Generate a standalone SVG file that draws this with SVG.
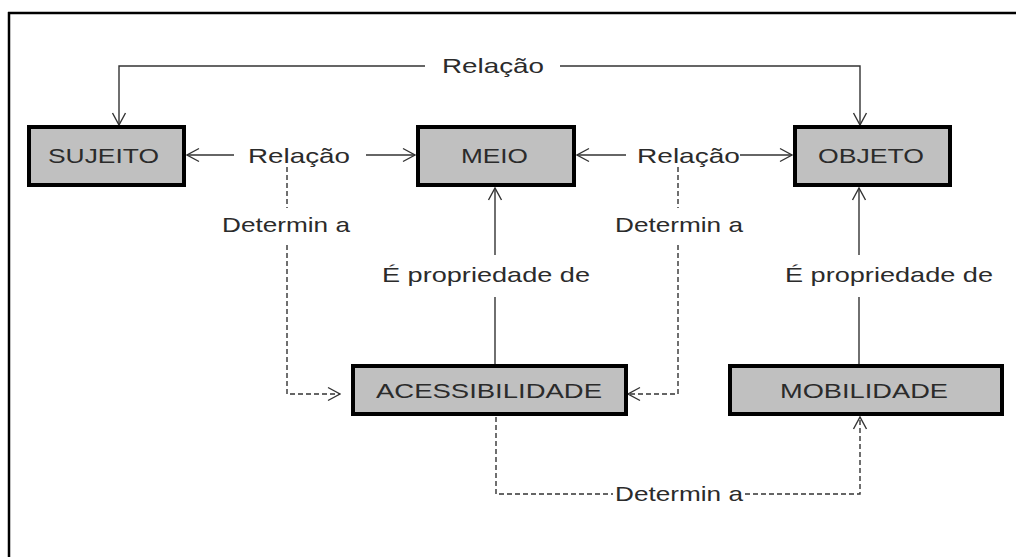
<svg xmlns="http://www.w3.org/2000/svg" width="1016" height="557" viewBox="0 0 1016 557">
<style>
  .box { fill: #c0c0c0; stroke: #000; stroke-width: 4; }
  .t { font-family: "Liberation Sans", Arial, sans-serif; font-size: 21px; fill: #2b2b2b; }
  .ln { fill: none; stroke: #333; stroke-width: 1.4; }
  .dash { fill: none; stroke: #333; stroke-width: 1.4; stroke-dasharray: 5 3; }
  .frame { stroke: #000; stroke-width: 2.5; }
</style>
<defs>
  <marker id="arr" markerUnits="userSpaceOnUse" markerWidth="14" markerHeight="16" viewBox="0 0 14 16" refX="13" refY="8" orient="auto">
    <path d="M1,1.5 L13,8 L1,14.5" fill="none" stroke="#333" stroke-width="1.4"/>
  </marker>
</defs>
<rect width="1016" height="557" fill="#fff"/>
<g id="frame">
  <line class="frame" x1="8" y1="13" x2="1016" y2="13"/>
  <line class="frame" x1="9" y1="12" x2="9" y2="557"/>
</g>
<g id="connectors">
  <path class="ln" d="M425,66 H119 V125" marker-end="url(#arr)"/>
  <path class="ln" d="M560,66 H860 V125" marker-end="url(#arr)"/>
  <text class="t" x="442" y="73" textLength="102" lengthAdjust="spacingAndGlyphs">Relação</text>

  <path class="ln" d="M234,155 H187" marker-end="url(#arr)"/>
  <path class="ln" d="M366,155 H415" marker-end="url(#arr)"/>
  <text class="t" x="248" y="163" textLength="102" lengthAdjust="spacingAndGlyphs">Relação</text>

  <path class="ln" d="M626,155 H577" marker-end="url(#arr)"/>
  <path class="ln" d="M740,155 H792" marker-end="url(#arr)"/>
  <text class="t" x="637" y="163" textLength="103" lengthAdjust="spacingAndGlyphs">Relação</text>

  <path class="dash" d="M287,167 V208"/>
  <path class="dash" d="M287,245 V394 H340" marker-end="url(#arr)"/>
  <text class="t" x="222" y="232" textLength="128" lengthAdjust="spacingAndGlyphs">Determin a</text>

  <path class="dash" d="M678,167 V208"/>
  <path class="dash" d="M678,245 V394 H628" marker-end="url(#arr)"/>
  <text class="t" x="615" y="232" textLength="128" lengthAdjust="spacingAndGlyphs">Determin a</text>

  <path class="ln" d="M495,364 V297"/>
  <path class="ln" d="M495,255 V188" marker-end="url(#arr)"/>
  <text class="t" x="382" y="282" textLength="208" lengthAdjust="spacingAndGlyphs">É propriedade de</text>

  <path class="ln" d="M859,364 V297"/>
  <path class="ln" d="M859,255 V188" marker-end="url(#arr)"/>
  <text class="t" x="785" y="282" textLength="208" lengthAdjust="spacingAndGlyphs">É propriedade de</text>

  <path class="dash" d="M496,417 V494 H613"/>
  <path class="dash" d="M745,494 H860 V417" marker-end="url(#arr)"/>
  <text class="t" x="615" y="501" textLength="128" lengthAdjust="spacingAndGlyphs">Determin a</text>
</g>
<g id="sujeito">
  <rect class="box" x="29" y="127" width="155" height="58"/>
  <text class="t" x="48" y="163" textLength="111" lengthAdjust="spacingAndGlyphs">SUJEITO</text>
</g>
<g id="meio">
  <rect class="box" x="418" y="127" width="156" height="58"/>
  <text class="t" x="461" y="163" textLength="67" lengthAdjust="spacingAndGlyphs">MEIO</text>
</g>
<g id="objeto">
  <rect class="box" x="795" y="127" width="155" height="58"/>
  <text class="t" x="818" y="163" textLength="106" lengthAdjust="spacingAndGlyphs">OBJETO</text>
</g>
<g id="acessibilidade">
  <rect class="box" x="353" y="366" width="273" height="48"/>
  <text class="t" x="376" y="398" textLength="226" lengthAdjust="spacingAndGlyphs">ACESSIBILIDADE</text>
</g>
<g id="mobilidade">
  <rect class="box" x="730" y="366" width="272" height="48"/>
  <text class="t" x="780" y="398" textLength="168" lengthAdjust="spacingAndGlyphs">MOBILIDADE</text>
</g>
</svg>
